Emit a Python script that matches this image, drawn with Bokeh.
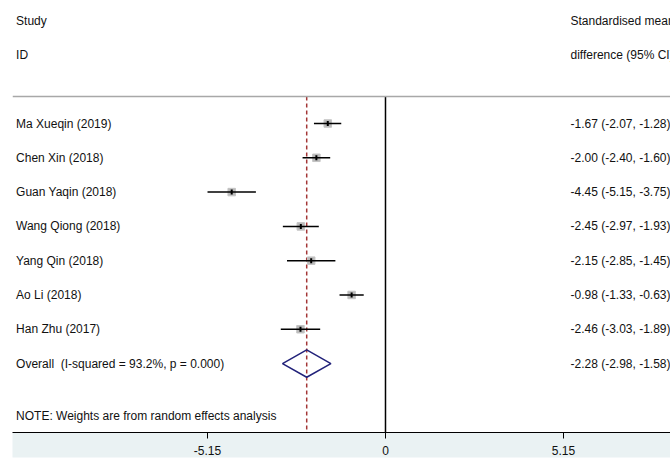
import numpy as np
from bokeh.plotting import figure
from bokeh.models import Range1d, FixedTicker, Span, ColumnDataSource
from bokeh.core.properties import value
from bokeh.embed import file_html
from bokeh.resources import INLINE

# ---------------- data ----------------
studies = ["Ma Xueqin (2019)", "Chen Xin (2018)", "Guan Yaqin (2018)",
           "Wang Qiong (2018)", "Yang Qin (2018)", "Ao Li (2018)", "Han Zhu (2017)"]
smd = [-1.67, -2.00, -4.45, -2.45, -2.15, -0.98, -2.46]
ci_low = [-2.07, -2.40, -5.15, -2.97, -2.85, -1.33, -3.03]
ci_high = [-1.28, -1.60, -3.75, -1.93, -1.45, -0.63, -1.89]

overall_label = "Overall\u00a0\u00a0(I-squared = 93.2%, p = 0.000)"
overall_smd = -2.28
overall_low = -2.98
overall_high = -1.58

header_left = ["Study", "ID"]
header_right = ["Standardised mean", "difference (95% CI)"]
note_text = "NOTE: Weights are from random effects analysis"

tick_values = [-5.15, 0.0, 5.15]
tick_labels = ["-5.15", "0", "5.15"]

# ---------------- layout ----------------
FONT = "Liberation Sans"
TXT = "#111111"
n = len(studies)
rows = list(range(1, n + 1))
overall_row = n + 1
note_row = overall_row + 1.52
header_rows = [-2, -1]
rule_row = 0.21
top_row, bottom_row = -2.587, 10.011
left_text_x = -10.69
right_text_x = 5.353

p = figure(width=670, height=459,
           x_range=Range1d(-10.793, 8.247), y_range=Range1d(bottom_row, top_row),
           output_backend="svg", toolbar_location=None, y_axis_location=None,
           min_border_left=12, min_border_right=0, min_border_top=0, min_border_bottom=27)
p.xgrid.visible = False
p.ygrid.visible = False
p.outline_line_color = None
p.background_fill_color = "white"
p.border_fill_color = "white"

# top rule
p.add_layout(Span(location=rule_row, dimension="width", line_color="#a8a8a8", line_width=1.5))

# reference line at 0 and overall dashed line
p.segment(x0=[0], y0=[rule_row], x1=[0], y1=[bottom_row], line_color="black", line_width=1.5)
p.segment(x0=[overall_smd], y0=[rule_row], x1=[overall_smd], y1=[bottom_row],
          line_color="#a33636", line_width=1.5, line_dash="4 3")

src = ColumnDataSource(dict(
    row=rows, smd=smd, lo=ci_low, hi=ci_high, name=studies,
    est=[f"{e:.2f} ({l:.2f}, {h:.2f})" for e, l, h in zip(smd, ci_low, ci_high)],
))

# weight boxes, CI lines, point marks
p.scatter(x="smd", y="row", source=src, marker="square", size=7.5,
          fill_color="#b5b5b5", line_color="#c4c4c4", fill_alpha=0.95)
p.segment(x0="lo", y0="row", x1="hi", y1="row", source=src, line_color="black", line_width=1.5)
p.scatter(x="smd", y="row", source=src, marker="dash", angle=np.pi / 2, size=5,
          line_color="black", line_width=2)

# overall diamond
half_h = 0.4
p.patch(x=[overall_low, overall_smd, overall_high, overall_smd, overall_low],
        y=[overall_row, overall_row - half_h, overall_row, overall_row + half_h, overall_row],
        fill_color=None, line_color="#22227a", line_width=1.5)

txt_kw = dict(text_font=value(FONT), text_font_size="12px", text_color=TXT,
              text_baseline="middle", text_align="left")

# left texts
p.text(x=[left_text_x] * 2, y=header_rows, text=header_left, **txt_kw)
p.text(x="lo", y="row", text="name", source=ColumnDataSource(dict(
    lo=[left_text_x] * n, row=rows, name=studies)), **txt_kw)
p.text(x=[left_text_x], y=[overall_row], text=[overall_label], **txt_kw)
p.text(x=[left_text_x], y=[note_row], text=[note_text], **txt_kw)

# right texts
p.text(x=[right_text_x] * 2, y=header_rows, text=header_right, **txt_kw)
p.text(x="x", y="row", text="est", source=ColumnDataSource(dict(
    x=[right_text_x] * n, row=rows, est=src.data["est"])), **txt_kw)
p.text(x=[right_text_x], y=[overall_row],
       text=[f"{overall_smd:.2f} ({overall_low:.2f}, {overall_high:.2f})"], **txt_kw)

# x axis
ax = p.xaxis[0]
ax.ticker = FixedTicker(ticks=tick_values)
ax.major_label_overrides = {v: l for v, l in zip(tick_values, tick_labels)}
ax.axis_line_color = "black"
ax.axis_line_width = 1
ax.major_tick_line_color = "black"
ax.major_tick_out = 6
ax.major_tick_in = 0
ax.minor_tick_line_color = None
ax.major_label_standoff = 7
ax.major_label_text_font = FONT
ax.major_label_text_font_size = "12px"
ax.major_label_text_color = TXT
ax.background_fill_color = "#eaf2f3"

open("out.html", "w").write(file_html(p, INLINE))
